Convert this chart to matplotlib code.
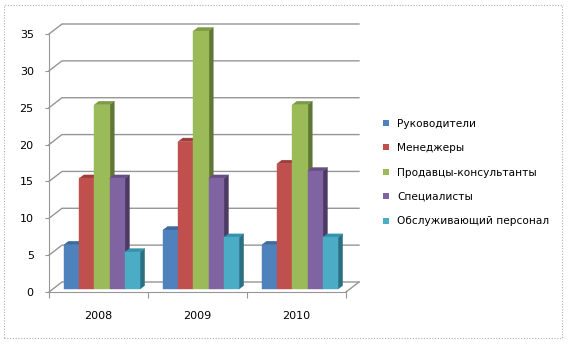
import matplotlib
matplotlib.use('Agg')
import matplotlib.pyplot as plt
from matplotlib.patches import Polygon, Rectangle

# data
years = ['2008', '2009', '2010']
series = ['Руководители', 'Менеджеры', 'Продавцы-консультанты', 'Специалисты',
          'Обслуживающий персонал']
rukovoditeli = [6, 8, 6]
menedzhery = [15, 20, 17]
prodavcy = [25, 35, 25]
specialisty = [15, 15, 16]
obsluzhivayushchie = [5, 7, 7]
values = [rukovoditeli, menedzhery, prodavcy, specialisty, obsluzhivayushchie]
yticks = [0, 5, 10, 15, 20, 25, 30, 35]

# colours: front, top, side
front_colors = ['#4F81BD', '#C0504D', '#9BBB59', '#8064A2', '#4BACC6']
top_colors = ['#3D6A9E', '#9E3D3A', '#7D9A45', '#674F86', '#3592AA']
side_colors = ['#2F5079', '#7B2E2C', '#5F7634', '#4C3A64', '#2A6F82']
grid_color = '#969696'

fig = plt.figure(figsize=(5.7, 3.45), dpi=100)
ax = fig.add_axes([49/570, 53/345, 297/570, 258/345])
ax.set_xlim(0, 3)
ax.set_ylim(0, 35)

# depth of the 3d box in data units
DX = 13/99
DY = 10/(258/35)

def proj(x, y, d):
    return (x + d*DX, y + d*DY)

# walls gridlines (left wall + back wall)
for v in yticks:
    pts = [proj(0, v, 0), proj(0, v, 1), proj(3, v, 1)]
    ax.plot([p[0] for p in pts], [p[1] for p in pts], color=grid_color,
            lw=1, clip_on=False, zorder=1)
# floor right edge
pts = [proj(3, 0, 0), proj(3, 0, 1)]
ax.plot([p[0] for p in pts], [p[1] for p in pts], color=grid_color, lw=1,
        clip_on=False, zorder=1)

# bars
w = 0.1535
s0 = 0.113
d0 = 0.3
bd = 0.35
z = 2
for j in range(len(years)):
    for i, vals in enumerate(values):
        v = vals[j]
        x0 = j + s0 + i*w
        x1 = x0 + w
        front = [proj(x0, 0, d0), proj(x1, 0, d0), proj(x1, v, d0), proj(x0, v, d0)]
        top = [proj(x0, v, d0), proj(x1, v, d0), proj(x1, v, d0+bd), proj(x0, v, d0+bd)]
        side = [proj(x1, 0, d0), proj(x1, 0, d0+bd), proj(x1, v, d0+bd), proj(x1, v, d0)]
        ax.add_patch(Polygon(side, closed=True, fc=side_colors[i], ec=side_colors[i],
                             lw=0.3, clip_on=False, zorder=z))
        ax.add_patch(Polygon(top, closed=True, fc=top_colors[i], ec=top_colors[i],
                             lw=0.3, clip_on=False, zorder=z))
        ax.add_patch(Polygon(front, closed=True, fc=front_colors[i], ec=front_colors[i],
                             lw=0.3, clip_on=False, zorder=z + 0.5))
        z += 1

# axes styling
for s in ['top', 'right']:
    ax.spines[s].set_visible(False)
for s in ['left', 'bottom']:
    ax.spines[s].set_color(grid_color)
    ax.spines[s].set_zorder(1)
ax.patch.set_alpha(0)
ax.set_yticks(yticks)
ax.tick_params(axis='y', length=3, color=grid_color, pad=8, labelsize=8)
ax.set_xticks([0, 1, 2, 3])
ax.set_xticklabels([])
ax.tick_params(axis='x', which='major', length=4, color=grid_color)
ax.set_xticks([0.5, 1.5, 2.5], minor=True)
ax.set_xticklabels(years, minor=True)
ax.tick_params(axis='x', which='minor', length=0, pad=14, labelsize=8)

# legend
handles = [Rectangle((0, 0), 1, 1, fc=c, ec='none') for c in front_colors]
fig.legend(handles, series, loc='center left', bbox_to_anchor=(383/570, 0.5),
           frameon=False, fontsize=7.6, handlelength=0.55, handleheight=0.55,
           handletextpad=0.8, labelspacing=1.37, borderpad=0, borderaxespad=0)

# dotted border around the chart
fig.patches.append(Rectangle((4/570, 7/345), 558/570, 333/345, transform=fig.transFigure,
                             fill=False, ec='#B0B0B0', lw=0.8, ls=(0, (1, 1.5))))

fig.savefig('out.png', dpi=100)
